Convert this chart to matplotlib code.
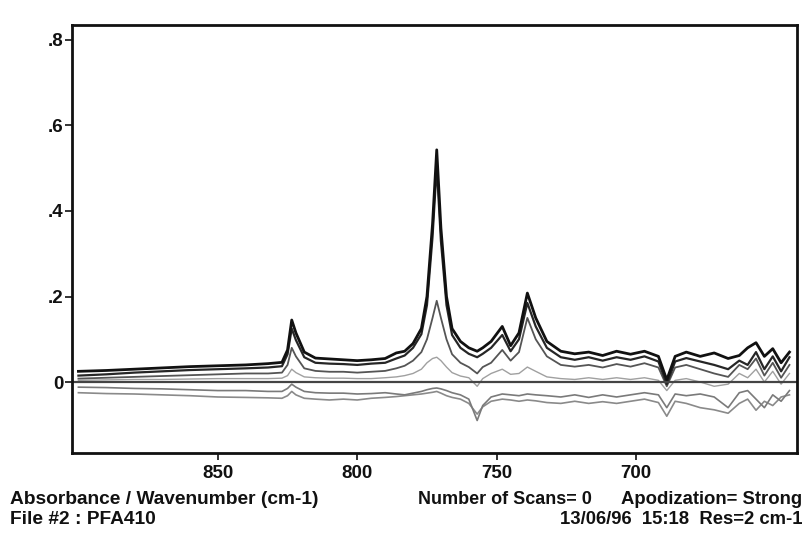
import matplotlib
matplotlib.use("Agg")
import matplotlib.pyplot as plt

# wavenumber grid (cm-1)
wavenumber = [900, 890, 880, 870, 860, 850, 840, 832, 827, 825,
              823.5, 822, 819, 815, 810, 805, 800, 795, 790, 786,
              783, 780, 777, 775, 773, 771.5, 770, 768, 766, 763,
              760, 757, 755, 752, 748, 745, 742, 739, 736, 732,
              727, 722, 717, 712, 707, 702, 697, 692, 689, 686,
              682, 677, 672, 667, 663, 660, 657, 654, 651, 648, 645]

trace_1 = [.025, .027, .030, .033, .036, .038, .040, .043, .046, .075,
           .145, .115, .070, .056, .054, .052, .050, .052, .055, .068,
           .072, .090, .125, .200, .370, .543, .360, .200, .125, .095,
           .080, .072, .080, .095, .130, .085, .115, .208, .150, .095,
           .072, .066, .070, .062, .072, .065, .072, .060, .005, .060,
           .070, .060, .068, .055, .062, .080, .092, .060, .078, .045, .070]

trace_2 = [.015, .018, .022, .025, .028, .030, .032, .034, .037, .065,
           .125, .098, .058, .045, .043, .042, .040, .043, .045, .055,
           .062, .080, .112, .180, .340, .505, .330, .180, .110, .080,
           .066, .058, .066, .080, .110, .072, .100, .185, .130, .080,
           .058, .052, .058, .050, .058, .052, .060, .048, -.005, .048,
           .056, .048, .040, .030, .050, .040, .070, .030, .060, .025, .058]

trace_3 = [.008, .010, .012, .014, .016, .018, .020, .020, .022, .040,
           .080, .060, .032, .026, .024, .024, .022, .024, .026, .032,
           .038, .050, .070, .100, .150, .190, .150, .100, .065, .045,
           .035, .020, .035, .045, .075, .050, .070, .150, .100, .060,
           .040, .036, .040, .034, .042, .036, .044, .034, -.010, .034,
           .040, .030, .020, .012, .040, .030, .055, .015, .045, .010, .040]

trace_4 = [.004, .005, .006, .006, .007, .008, .008, .008, .009, .015,
           .030, .022, .012, .010, .009, .009, .008, .008, .010, .012,
           .015, .020, .030, .045, .055, .058, .050, .035, .022, .014,
           .010, -.010, .008, .020, .030, .018, .020, .035, .025, .012,
           .008, .006, .010, .006, .010, .006, .010, .004, -.020, .004,
           .008, .000, -.010, -.005, .020, .010, .030, .000, .025, -.005, .020]

trace_5 = [-.012, -.013, -.015, -.016, -.018, -.020, -.020, -.022, -.022, -.015,
           -.005, -.012, -.022, -.025, -.026, -.026, -.028, -.027, -.025, -.028,
           -.030, -.026, -.022, -.018, -.015, -.014, -.016, -.020, -.025, -.030,
           -.040, -.090, -.055, -.035, -.028, -.030, -.032, -.028, -.030, -.032,
           -.035, -.030, -.036, -.030, -.035, -.030, -.025, -.030, -.060, -.028,
           -.032, -.028, -.035, -.060, -.025, -.020, -.040, -.060, -.030, -.045, -.020]

trace_6 = [-.025, -.027, -.028, -.030, -.032, -.035, -.036, -.037, -.038, -.032,
           -.022, -.030, -.038, -.040, -.042, -.040, -.042, -.038, -.036, -.034,
           -.032, -.030, -.028, -.026, -.024, -.022, -.026, -.032, -.036, -.040,
           -.050, -.075, -.058, -.045, -.040, -.042, -.045, -.042, -.044, -.048,
           -.050, -.045, -.050, -.046, -.050, -.045, -.040, -.048, -.080, -.045,
           -.050, -.060, -.065, -.073, -.050, -.040, -.066, -.045, -.055, -.035, -.030]

x_ticks = [850, 800, 750, 700]
y_ticks = [0, 0.2, 0.4, 0.6, 0.8]
y_tick_labels = ["0", ".2", ".4", ".6", ".8"]

plt.rcParams['font.family'] = ['Liberation Sans', 'DejaVu Sans']
plt.rcParams['font.weight'] = 'bold'

fig = plt.figure(figsize=(8.05, 5.38), dpi=100)
ax = fig.add_axes([72 / 805, 1 - 453 / 538, 725 / 805, 428 / 538])

styles = [
    (trace_6, '#8a8a8a', 1.2),
    (trace_5, '#7a7a7a', 1.2),
    (trace_4, '#a0a0a0', 1.0),
    (trace_3, '#555555', 1.3),
    (trace_2, '#262626', 1.6),
    (trace_1, '#111111', 2.0),
]
for values, color, lw in styles:
    ax.plot(wavenumber, values, color=color, lw=lw)

ax.axhline(0, color='#444444', lw=1.6)

ax.set_xlim(902.3, 642.3)
ax.set_ylim(-0.166, 0.835)

ax.set_xticks(x_ticks)
ax.set_xticklabels([str(t) for t in x_ticks])
ax.set_yticks(y_ticks)
ax.set_yticklabels(y_tick_labels)
ax.tick_params(axis='both', direction='out', length=5, width=1.2,
               labelsize=13.5, colors='#111111')
ax.tick_params(axis='y', pad=1)
ax.tick_params(axis='x', pad=4)
for s in ax.spines.values():
    s.set_linewidth(2)
    s.set_color('#111111')

fs = 13.8
fig.text(10 / 805, 1 - 500 / 538, "Absorbance / Wavenumber (cm-1)", fontsize=fs, va='center', color='#111111')
fig.text(418 / 805, 1 - 500 / 538, "Number of Scans= 0", fontsize=13, va='center', color='#111111')
fig.text(802 / 805, 1 - 500 / 538, "Apodization= Strong", fontsize=13.3, va='center', ha='right', color='#111111')
fig.text(10 / 805, 1 - 519 / 538, "File #2 : PFA410", fontsize=fs, va='center', color='#111111')
fig.text(802 / 805, 1 - 519 / 538, "13/06/96  15:18  Res=2 cm-1", fontsize=13.3, va='center', ha='right', color='#111111')

fig.savefig("out.png", dpi=100)
